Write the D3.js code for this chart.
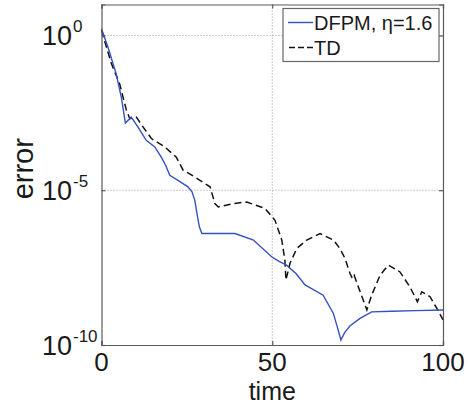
<!DOCTYPE html>
<html><head><meta charset="utf-8">
<script src="https://cdn.jsdelivr.net/npm/d3@7/dist/d3.min.js"></script>
<style>body{margin:0;background:#fff}svg{display:block}text{font-family:"Liberation Sans",Arial,sans-serif;fill:#1a1a1a}</style>
</head><body><svg id="c" width="468" height="406"></svg>
<script>
// time, log10(error)
const dfpmT = [0,1.9,4.3,5.8,7.0,8.7,10.7,13.1,15.6,17.5,18.8,20.0,22.4,25.3,26.5,27.3,28.3,28.7,29.4,31.8,39.1,44.5,49.8,52,54.2,57,59.6,64.9,67.9,69.0,70.1,71.2,72.8,75.7,79.1,85,92,100];
const dfpmLog = [0.22,-0.38,-1.24,-1.99,-2.83,-2.64,-2.96,-3.39,-3.60,-3.93,-4.20,-4.52,-4.68,-4.89,-5.05,-5.32,-5.97,-6.2,-6.40,-6.40,-6.40,-6.61,-7.15,-7.30,-7.42,-7.70,-8.06,-8.39,-8.98,-9.4,-9.84,-9.6,-9.38,-9.14,-8.93,-8.91,-8.89,-8.87];
const tdT = [0,2.9,5.3,7.3,8.3,10.2,12.2,14.6,18.5,21.9,23.9,27.3,30.2,31.8,33.2,34.2,38.6,42.5,47.9,50.8,52.8,53.7,54.0,55.2,57.2,60.1,64.0,67.9,69.8,71.3,72.8,73.5,74.0,75.2,77.7,79.1,81.6,84.0,87.4,90.3,92.5,93.8,96.2,98.2,100];
const tdLog = [0.16,-0.91,-1.56,-2.42,-2.69,-2.64,-2.96,-3.33,-3.60,-3.93,-4.35,-4.57,-4.78,-4.89,-5.43,-5.54,-5.43,-5.38,-5.59,-5.97,-6.61,-7.26,-7.90,-7.36,-6.88,-6.61,-6.40,-6.61,-6.88,-7.20,-7.70,-7.85,-7.75,-8.12,-8.87,-8.39,-7.74,-7.42,-7.64,-8.12,-8.60,-8.28,-8.44,-8.82,-9.19];
const xTicks = [0,50,100];
const yTickExps = [0,-5,-10];
const seriesNames = ["DFPM, \u03b7=1.6","TD"];

const svg = d3.select("#c");
const L=101.5,R=443,T=4.5,B=345;
const x = d3.scaleLinear().domain([0,100]).range([L,R]);
const y = d3.scaleLog().domain([1e-10,1e1]).range([B,T]);

// grid
const g = svg.append("g");
g.selectAll(".gy").data(yTickExps.filter(e=>e>-10)).join("line")
 .attr("x1",L).attr("x2",R).attr("y1",e=>y(Math.pow(10,e))).attr("y2",e=>y(Math.pow(10,e)))
 .attr("stroke","#999").attr("stroke-width",1).attr("stroke-dasharray","1,2");
g.selectAll(".gx").data(xTicks.filter(v=>v>0&&v<100)).join("line")
 .attr("y1",T).attr("y2",B).attr("x1",d=>x(d)).attr("x2",d=>x(d))
 .attr("stroke","#999").attr("stroke-width",1).attr("stroke-dasharray","1,2");

// lines
const line = d3.line().x(d=>x(d[0])).y(d=>y(Math.pow(10,d[1])));
svg.append("path").datum(tdT.map((t,i)=>[t,tdLog[i]]))
 .attr("d",line).attr("fill","none").attr("stroke","#111").attr("stroke-width",1.5).attr("stroke-dasharray","7,4");
svg.append("path").datum(dfpmT.map((t,i)=>[t,dfpmLog[i]]))
 .attr("d",line).attr("fill","none").attr("stroke","#3650c0").attr("stroke-width",1.4);

// axes frame and ticks
const ac="#5a5a5a";
const yVals = yTickExps.map(e=>Math.pow(10,e));
const ax = [
 [d3.axisBottom(x).tickValues(xTicks).tickSize(-4).tickFormat(""), `translate(0,${B})`],
 [d3.axisTop(x).tickValues(xTicks).tickSize(-4).tickFormat(""), `translate(0,${T})`],
 [d3.axisLeft(y).tickValues(yVals).tickSize(-4).tickFormat(""), `translate(${L},0)`],
 [d3.axisRight(y).tickValues(yVals).tickSize(-4).tickFormat(""), `translate(${R},0)`]
];
ax.forEach(([a,tr])=>{
 const gg=svg.append("g").attr("transform",tr).call(a);
 gg.selectAll("path,line").attr("stroke",ac).attr("stroke-width",1.2);
});

// x tick labels
svg.selectAll(".xl").data(xTicks).join("text")
 .attr("x",d=>x(d)).attr("y",371).attr("text-anchor","middle").attr("font-size",26).text(d=>d);
// y tick labels
yTickExps.forEach(e=>{
 svg.append("text").attr("x",72).attr("y",y(Math.pow(10,e))+10).attr("text-anchor","end").attr("font-size",27).text("10");
 svg.append("text").attr("x",73).attr("y",y(Math.pow(10,e))-3).attr("font-size",17).text(String(e));
});
// axis titles
svg.append("text").attr("x",x(50)).attr("y",400).attr("text-anchor","middle").attr("font-size",25).text("time");
svg.append("text").attr("transform",`translate(33,${(T+B)/2-6}) rotate(-90)`).attr("text-anchor","middle").attr("font-size",29).text("error");

// legend
const lg = svg.append("g");
lg.append("rect").attr("x",283).attr("y",8.5).attr("width",156).attr("height",53)
 .attr("fill","#fff").attr("stroke","#666").attr("stroke-width",1.2);
const ly=[22.5,47.5];
lg.append("line").attr("x1",288).attr("x2",313).attr("y1",ly[0]).attr("y2",ly[0]).attr("stroke","#3650c0").attr("stroke-width",1.4);
lg.append("line").attr("x1",289).attr("x2",313).attr("y1",ly[1]).attr("y2",ly[1]).attr("stroke","#111").attr("stroke-width",1.5).attr("stroke-dasharray","6,3");
seriesNames.forEach((n,i)=>lg.append("text").attr("x",314).attr("y",ly[i]+7.5).attr("font-size",20).text(n));
</script></body></html>
